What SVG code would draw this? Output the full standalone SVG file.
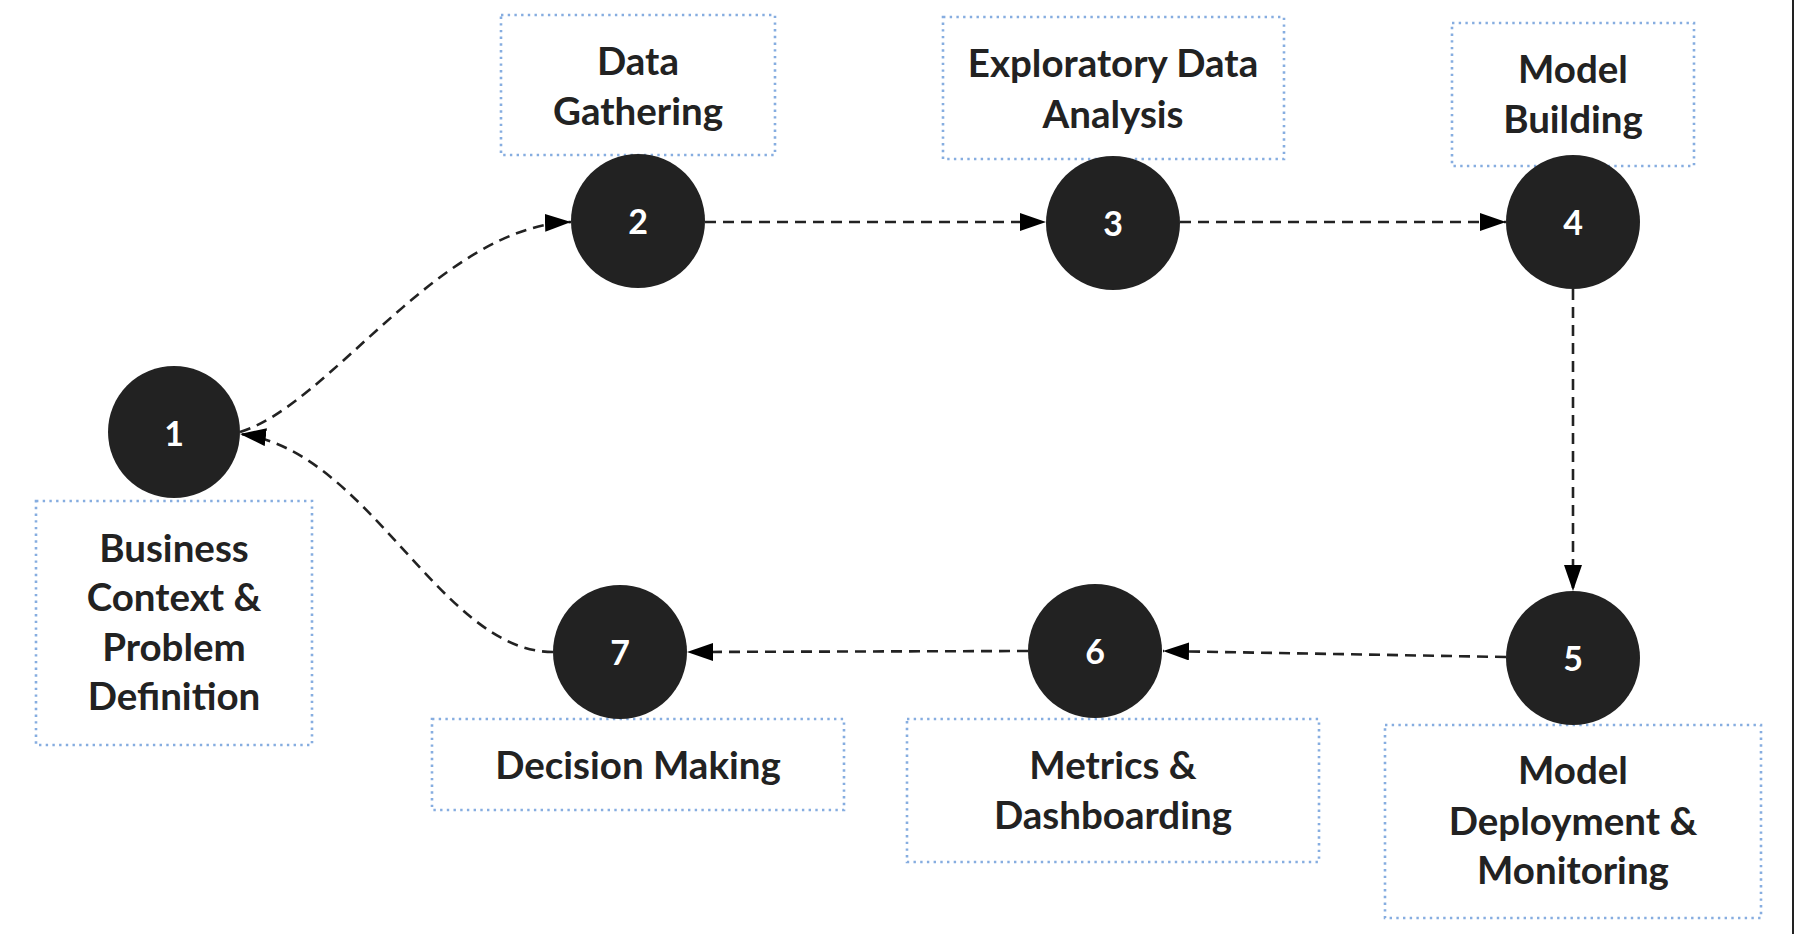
<svg xmlns="http://www.w3.org/2000/svg" width="1794" height="934" viewBox="0 0 1794 934">
<style>
.lbl{font-family:Lato,"Liberation Sans",sans-serif;font-weight:700;font-size:38.5px;fill:#222222;text-anchor:middle}
.num{font-family:Lato,"Liberation Sans",sans-serif;font-weight:700;font-size:34px;fill:#ffffff;text-anchor:middle}
.box{fill:none;stroke:#86ade0;stroke-width:2.6;stroke-dasharray:2.4 4.3}
.dot{fill:#222222}
.edge{fill:none;stroke:#222222;stroke-width:2.6;stroke-dasharray:11 7}
</style>
<defs>
<marker id="arr" markerUnits="userSpaceOnUse" markerWidth="28" markerHeight="20" refX="26" refY="9" orient="auto">
<path d="M0,0 L26,9 L0,18 Z" fill="#000000"/>
</marker>
</defs>
<rect x="0" y="0" width="1794" height="934" fill="#ffffff"/>
<rect x="1792" y="0" width="2" height="934" fill="#222222"/>

<g id="connectors">
<path class="edge" d="M240,432 C330,405 440,226 571,222" marker-end="url(#arr)"/>
<path class="edge" d="M705,222 L1046,222" marker-end="url(#arr)"/>
<path class="edge" d="M1180,222 L1506,222" marker-end="url(#arr)"/>
<path class="edge" d="M1573,289 L1573,591" marker-end="url(#arr)"/>
<path class="edge" d="M1506,657 L1163,651" marker-end="url(#arr)"/>
<path class="edge" d="M1028,651 L687,652" marker-end="url(#arr)"/>
<path class="edge" d="M553,652 C440,652 370,450 240,434" marker-end="url(#arr)"/>
</g>

<g id="node1">
<rect class="box" x="36" y="501" width="276" height="244"/>
<circle class="dot" cx="174" cy="432" r="66"/>
<text class="num" x="174" y="446">1</text>
<text class="lbl" x="174" y="562">Business</text>
<text class="lbl" x="174" y="611">Context &amp;</text>
<text class="lbl" x="174" y="661">Problem</text>
<text class="lbl" x="174" y="710">Definition</text>
</g>

<g id="node2">
<rect class="box" x="501" y="15" width="274" height="140"/>
<circle class="dot" cx="638" cy="221" r="67"/>
<text class="num" x="638" y="234">2</text>
<text class="lbl" x="638" y="75">Data</text>
<text class="lbl" x="638" y="125">Gathering</text>
</g>

<g id="node3">
<rect class="box" x="943" y="17" width="341" height="142"/>
<circle class="dot" cx="1113" cy="223" r="67"/>
<text class="num" x="1113" y="236">3</text>
<text class="lbl" x="1113" y="77">Exploratory Data</text>
<text class="lbl" x="1113" y="128">Analysis</text>
</g>

<g id="node4">
<rect class="box" x="1452" y="23" width="242" height="143"/>
<circle class="dot" cx="1573" cy="222" r="67"/>
<text class="num" x="1573" y="235">4</text>
<text class="lbl" x="1573" y="83">Model</text>
<text class="lbl" x="1573" y="133">Building</text>
</g>

<g id="node5">
<rect class="box" x="1385" y="725" width="376" height="193"/>
<circle class="dot" cx="1573" cy="658" r="67"/>
<text class="num" x="1573" y="671">5</text>
<text class="lbl" x="1573" y="784">Model</text>
<text class="lbl" x="1573" y="835">Deployment &amp;</text>
<text class="lbl" x="1573" y="884">Monitoring</text>
</g>

<g id="node6">
<rect class="box" x="907" y="719" width="412" height="143"/>
<circle class="dot" cx="1095" cy="651" r="67"/>
<text class="num" x="1095" y="664">6</text>
<text class="lbl" x="1113" y="779">Metrics &amp;</text>
<text class="lbl" x="1113" y="829">Dashboarding</text>
</g>

<g id="node7">
<rect class="box" x="432" y="719" width="412" height="91"/>
<circle class="dot" cx="620" cy="652" r="67"/>
<text class="num" x="620" y="665">7</text>
<text class="lbl" x="638" y="779">Decision Making</text>
</g>
</svg>
